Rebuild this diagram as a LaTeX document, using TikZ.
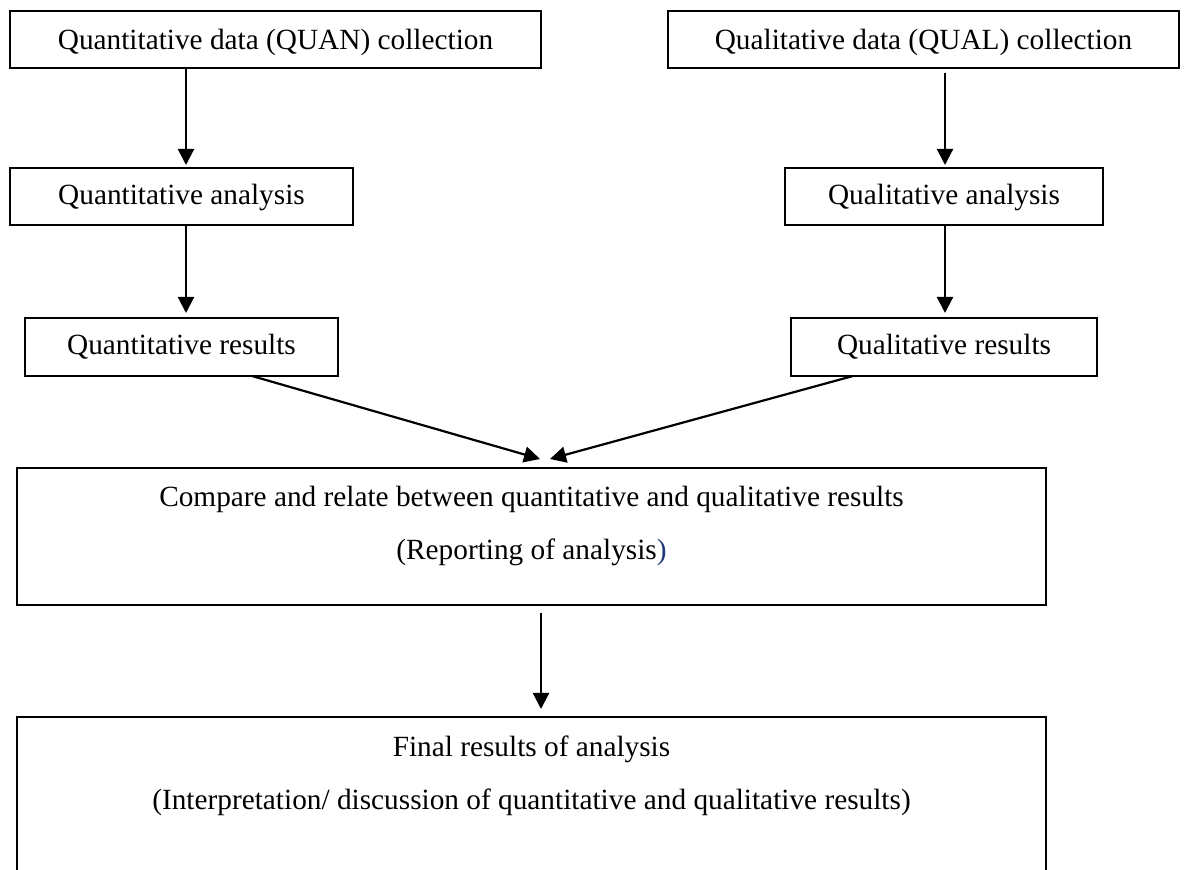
\documentclass[tikz,border=0pt]{standalone}
\usepackage{fontspec}
\setmainfont{Liberation Serif}
\usetikzlibrary{arrows.meta,calc}
\definecolor{parenblue}{RGB}{31,56,120}
\begin{document}
\begin{tikzpicture}[x=0.5pt,y=-0.5pt,
  box/.style={draw, line width=0.85pt, inner sep=0pt, outer sep=0pt,
    text height=11pt, text depth=3pt, font=\fontsize{14.65pt}{17pt}\selectfont},
  txt/.style={inner sep=0pt, anchor=base, font=\fontsize{14.65pt}{17pt}\selectfont},
  arr/.style={line width=1.1pt, -{Triangle[length=8pt,width=8pt]}}]
\useasboundingbox (0,0) rectangle (1184,870);
\clip (0,0) rectangle (1184,870);

% top row
\node[box, minimum width=265.5pt, minimum height=28.5pt, text height=12.5pt, text depth=2.5pt] (b1) at (275.5,39.5) {Quantitative data (QUAN) collection};
\node[box, minimum width=255.5pt, minimum height=28.5pt, text height=12.5pt, text depth=2.5pt] (b2) at (923.5,39.5) {Qualitative data (QUAL) collection};
% analysis
\node[box, minimum width=171.5pt, minimum height=28.5pt] (b3) at (181.5,196.5) {Quantitative analysis};
\node[box, minimum width=159pt, minimum height=28.5pt] (b4) at (944,196.5) {Qualitative analysis};
% results
\node[box, minimum width=156.5pt, minimum height=29pt] (b5) at (181.5,347) {Quantitative results};
\node[box, minimum width=153pt, minimum height=29pt] (b6) at (944,347) {Qualitative results};
% compare box
\node[box, minimum width=514.5pt, minimum height=68.5pt] (cmp) at (531.5,536.5) {};
\node[txt] (cmpA) at (531.5,507) {Compare and relate between quantitative and qualitative results};
\node[txt] (cmpB) at (531.5,560) {(Reporting of analysis\textcolor{parenblue}{)}};
% final box
\node[box, minimum width=514.5pt, minimum height=91.5pt] (fin) at (531.5,808.5) {};
\node[txt] (finA) at (531.5,757) {Final results of analysis};
\node[txt] (finB) at (531.5,810) {(Interpretation/ discussion of quantitative and qualitative results)};

% helper coordinates
\coordinate (xL) at (186,0);
\coordinate (xR) at (945,0);
\coordinate (xM) at (541,0);
\coordinate (sL) at (252,0);
\coordinate (sR) at (853,0);
\coordinate (tipL) at (540,459);
\coordinate (tipR) at (550,459);

% arrows
\draw[arr] (b1.south -| xL) -- ([yshift=1.5pt]b3.north -| xL);
\draw[arr] ([yshift=-2.5pt]b2.south -| xR) -- ([yshift=1.5pt]b4.north -| xR);
\draw[arr] (b3.south -| xL) -- ([yshift=2.5pt]b5.north -| xL);
\draw[arr] (b4.south -| xR) -- ([yshift=2.5pt]b6.north -| xR);
\draw[arr] (b5.south -| sL) -- (tipL);
\draw[arr] (b6.south -| sR) -- (tipR);
\draw[arr] ([yshift=-4pt]cmp.south -| xM) -- ([yshift=4pt]fin.north -| xM);
\end{tikzpicture}
\end{document}
